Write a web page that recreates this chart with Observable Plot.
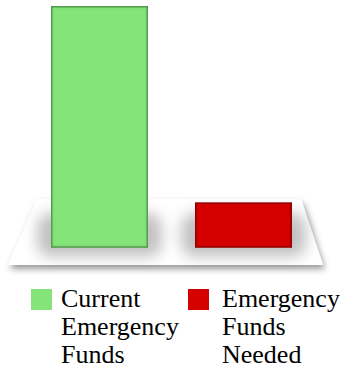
<!DOCTYPE html>
<html>
<head>
<meta charset="utf-8">
<script src="https://cdn.jsdelivr.net/npm/d3@7"></script>
<script src="https://cdn.jsdelivr.net/npm/@observablehq/plot@0.6"></script>
<style>
  html, body { margin: 0; padding: 0; background: #fff; overflow: hidden; }
  #wrap { position: relative; width: 340px; height: 368px; }
  #legend { position: absolute; left: 0; top: 280px; width: 340px; height: 88px; color: #000;
    font-family: "Liberation Serif", serif; font-size: 26px; line-height: 28px; }
  .sw { position: absolute; width: 21px; height: 21px; }
  .lt { position: absolute; width: 122px; }
</style>
</head>
<body>
<div id="wrap">
  <div id="chart"></div>
  <div id="legend"></div>
</div>
<script>
const categories = ["Current Emergency Funds", "Emergency Funds Needed"];
const values = [5400, 1000];
const colors = ["#84e47a", "#d50000"];
const edgeColors = ["#5aa853", "#9c0000"];

const data = categories.map((c, i) => ({category: c, value: values[i]}));

const chart = Plot.plot({
  width: 340,
  height: 280,
  marginLeft: 4,
  marginRight: 1,
  marginTop: 6,
  marginBottom: 33,
  x: {domain: categories, padding: 0.326, axis: null},
  y: {domain: [0, 5400], axis: null},
  color: {domain: categories, range: colors},
  marks: [
    Plot.barY(data, {x: "category", y: "value", fill: "category", insetLeft: 0.75, insetRight: 0.75, insetTop: 0.75,
      stroke: d => edgeColors[categories.indexOf(d.category)], strokeWidth: 1.5})
  ]
});

const svg = d3.select(chart);
const xs = chart.scale("x");
const ys = chart.scale("y");
const bw = xs.bandwidth;
const base = ys.apply(0);
const left = xs.apply(categories[0]);
const right = xs.apply(categories[1]) + bw;

const barGroup = chart.querySelector("g[aria-label='bar']") || Array.from(chart.querySelectorAll("g")).pop();

const defs = svg.insert("defs", ":first-child");
const ps = defs.append("filter").attr("id", "platShadow").attr("x", "-10%").attr("y", "-30%").attr("width", "125%").attr("height", "170%");
ps.append("feDropShadow").attr("dx", 2).attr("dy", 4).attr("stdDeviation", 3).attr("flood-color", "#000").attr("flood-opacity", 0.4);
const bs = defs.append("filter").attr("id", "barShadow").attr("x", "-50%").attr("y", "-80%").attr("width", "200%").attr("height", "260%");
bs.append("feGaussianBlur").attr("stdDeviation", 7);
const inner = defs.append("filter").attr("id", "inner").attr("x", "-10%").attr("y", "-10%").attr("width", "120%").attr("height", "120%");
inner.append("feComponentTransfer").attr("in", "SourceAlpha").attr("result", "inv")
  .append("feFuncA").attr("type", "table").attr("tableValues", "1 0");
inner.append("feGaussianBlur").attr("in", "inv").attr("stdDeviation", 2).attr("result", "blur");
inner.append("feFlood").attr("flood-color", "#000").attr("flood-opacity", 0.35).attr("result", "col");
inner.append("feComposite").attr("in", "col").attr("in2", "blur").attr("operator", "in").attr("result", "sh");
inner.append("feComposite").attr("in", "sh").attr("in2", "SourceAlpha").attr("operator", "in").attr("result", "ish");
const mg = inner.append("feMerge");
mg.append("feMergeNode").attr("in", "SourceGraphic");
mg.append("feMergeNode").attr("in", "ish");

const plat = svg.insert("g", () => barGroup).attr("class", "platform");
plat.append("path")
  .attr("d", `M${left - 14},${base - 48}L${right + 9},${base - 48}L${right + 31},${base + 18}L${left - 43},${base + 18}Z`)
  .attr("fill", "#fff")
  .attr("filter", "url(#platShadow)");
categories.forEach(c => {
  const x0 = xs.apply(c);
  plat.append("rect")
    .attr("x", x0 - 14).attr("y", base - 34)
    .attr("width", bw + 28).attr("height", 44)
    .attr("rx", 14)
    .attr("fill", "#000").attr("fill-opacity", 0.24)
    .attr("filter", "url(#barShadow)");
});

d3.select(barGroup).selectAll("rect").attr("filter", "url(#inner)");

document.getElementById("chart").appendChild(chart);

const legend = document.getElementById("legend");
const pos = [{sw: 31, tx: 61}, {sw: 188, tx: 222}];
categories.forEach((c, i) => {
  const sw = document.createElement("div");
  sw.className = "sw";
  sw.setAttribute("style", `left:${pos[i].sw}px;top:9px;background:${colors[i]};`);
  legend.appendChild(sw);
  const t = document.createElement("div");
  t.className = "lt";
  t.setAttribute("style", `left:${pos[i].tx}px;top:5px;`);
  t.textContent = c;
  legend.appendChild(t);
});
</script>
</body>
</html>
